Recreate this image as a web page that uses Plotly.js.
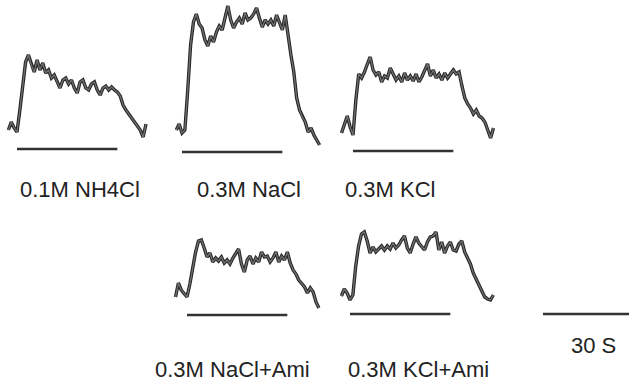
<!DOCTYPE html>
<html>
<head>
<meta charset="utf-8">
<script src="https://cdn.plot.ly/plotly-3.0.1.min.js"></script>
<style>
  html, body { margin: 0; padding: 0; background: #fff; }
  #chart { width: 629px; height: 384px; }
</style>
</head>
<body>
<div id="chart"></div>
<script>
// ---- DATA ----
// time (s) relative to stimulus onset
const timeS = [-4,-3,-2,-1,0,1,2,3,4,5,6,7,8,9,10,11,12,13,14,15,16,17,18,19,20,21,22,23,24,25,26,27,28,29,30,31,32,33,34,35,36,37,38,39,40,41,42,43,44,45,46,47,48,49,50];

const labels = ["0.1M NH4Cl", "0.3M NaCl", "0.3M KCl", "0.3M NaCl+Ami", "0.3M KCl+Ami"];

// integrated nerve response (relative units)
const respNH4Cl = [null,0,8,2,-2,20,45,68,75,65,58,70,60,67,57,60,52,55,48,42,50,52,46,50,42,37,48,50,42,40,46,48,40,35,42,44,40,43,40,38,34,25,20,16,12,8,3,0,-7,6,null,null,null,null,null];
const respNaCl = [null,null,3,9,0,3,43,88,111,119,109,105,93,87,97,91,101,107,103,115,127,113,105,111,115,109,120,113,115,119,125,115,106,113,109,113,107,118,111,103,118,95,78,61,35,23,16,11,1,5,-2,-7,-12,null,null];
const respKCl = [0,9,17,6,-2,33,59,55,61,69,76,63,58,61,51,57,55,65,59,53,57,51,60,53,57,52,59,51,56,63,69,57,63,55,59,53,60,55,59,63,59,61,47,35,29,25,19,23,17,15,11,3,-5,5,null];
const respNaClAmi = [0,14,7,3,0,13,29,45,56,57,49,40,44,35,39,36,40,34,37,33,39,43,48,33,25,37,41,33,39,35,45,40,41,35,39,45,35,41,37,45,34,27,23,17,14,10,4,9,5,-5,-11,null,null,null,null];
const respKClAmi = [null,4,11,7,0,5,34,54,66,68,59,47,53,48,51,54,50,54,51,57,52,55,60,64,52,47,56,63,57,54,50,58,63,64,68,50,58,47,54,58,50,49,56,59,48,42,36,27,21,14,9,3,1,0,5];

// stimulus application (s)
const stimOn = [0, 0, 0, 0, 0];
const stimOff = [35, 35, 35, 35, 35];

// time scale bar (s)
const scaleBar = [0, 30];
const scaleLabel = "30 S";

// ---- LAYOUT (pixel placement) ----
const W = 629, H = 384;
const pxPerSec = 86 / 30;
const onsetPx = [17, 182, 353, 187, 350];
const basePx = [130, 133, 133, 297, 300];
const barDropPx = [19, 19, 18, 18, 14];
const xr = [-5, 51], yr = [-25, 130];
const labelPos = [[80, 189], [249, 189], [390, 189], [232, 369], [418, 369]];
const fontFam = "Liberation Sans, Arial, Helvetica, sans-serif";

const series = [respNH4Cl, respNaCl, respKCl, respNaClAmi, respKClAmi];

const data = [];
const layout = {
  width: W, height: H,
  margin: {l: 0, r: 0, t: 0, b: 0},
  paper_bgcolor: "#fff", plot_bgcolor: "rgba(0,0,0,0)",
  showlegend: false,
  font: {family: fontFam, color: "#222"},
  shapes: [], annotations: []
};

series.forEach((ys, i) => {
  const n = i + 1;
  const xa = "x" + (n === 1 ? "" : n), ya = "y" + (n === 1 ? "" : n);
  // dark outline + grey core, like the chart-recorder trace
  data.push({
    type: "scatter", mode: "lines", x: timeS, y: ys, xaxis: xa, yaxis: ya,
    line: {color: "#262626", width: 3.4}, connectgaps: false, hoverinfo: "skip"
  });
  data.push({
    type: "scatter", mode: "lines", x: timeS, y: ys, xaxis: xa, yaxis: ya,
    line: {color: "#707070", width: 1.3}, connectgaps: false, hoverinfo: "skip"
  });
  const x0 = (onsetPx[i] + xr[0] * pxPerSec) / W;
  const x1 = (onsetPx[i] + xr[1] * pxPerSec) / W;
  const yb = (H - (basePx[i] - yr[0])) / H;
  const yt = (H - (basePx[i] - yr[1])) / H;
  layout["xaxis" + (n === 1 ? "" : n)] = {domain: [Math.max(0, x0), Math.min(1, x1)], range: xr, visible: false, anchor: ya, fixedrange: true};
  layout["yaxis" + (n === 1 ? "" : n)] = {domain: [Math.max(0, yb), Math.min(1, yt)], range: yr, visible: false, anchor: xa, fixedrange: true};
  layout.shapes.push({
    type: "line", xref: xa, yref: ya,
    x0: stimOn[i], x1: stimOff[i], y0: -barDropPx[i], y1: -barDropPx[i],
    line: {color: "#333", width: 2.6}
  });
  layout.annotations.push({
    xref: "paper", yref: "paper", x: labelPos[i][0] / W, y: 1 - labelPos[i][1] / H,
    text: labels[i], showarrow: false, xanchor: "center", yanchor: "middle",
    font: {size: 22, color: "#222", family: fontFam}
  });
});

// scale bar axis
layout.xaxis6 = {domain: [543 / W, 1], range: [0, 30], visible: false, anchor: "y6", fixedrange: true};
layout.yaxis6 = {domain: [(H - 330) / H, (H - 300) / H], range: [-16, 14], visible: false, anchor: "x6", fixedrange: true};
data.push({type: "scatter", mode: "lines", x: scaleBar, y: [0, 0], xaxis: "x6", yaxis: "y6",
  line: {color: "#333", width: 2.6}, hoverinfo: "skip", cliponaxis: false});
layout.annotations.push({
  xref: "paper", yref: "paper", x: 593 / W, y: 1 - 345 / H, text: scaleLabel,
  showarrow: false, xanchor: "center", yanchor: "middle",
  font: {size: 22, color: "#222", family: fontFam}
});

Plotly.newPlot("chart", data, layout, {displayModeBar: false, staticPlot: true});
</script>
</body>
</html>
